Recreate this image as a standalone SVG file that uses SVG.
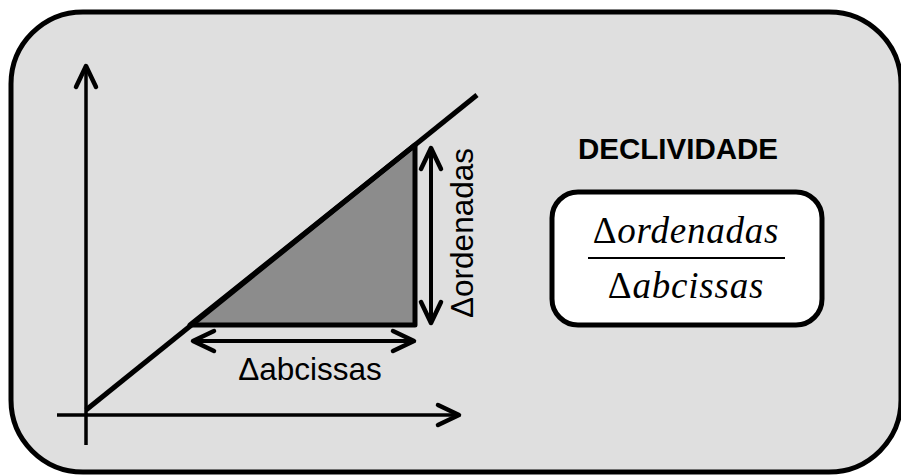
<svg xmlns="http://www.w3.org/2000/svg" width="901" height="475" viewBox="0 0 901 475">
<style>
.ax{stroke:#000;stroke-width:3.5;fill:none}
.dim{stroke:#000;stroke-width:4;fill:none}
.lbl{font-family:"Liberation Sans",Arial,sans-serif;font-size:31.5px;fill:#000}
.math{font-family:"Liberation Serif","Times New Roman",serif;font-size:37px;font-style:italic;fill:#000;letter-spacing:0.8px}
.up{font-style:normal}
</style>
<defs>
<marker id="ah" markerUnits="userSpaceOnUse" viewBox="-25 -14 30 28" refX="0" refY="0" markerWidth="30" markerHeight="28" orient="auto-start-reverse" overflow="visible">
<path d="M-21,-10 L0,0 L-21,10" fill="none" stroke="#000" stroke-width="4.5" stroke-linecap="round" stroke-linejoin="round"/>
</marker>
</defs>
<g id="frame">
<rect x="11" y="12" width="890" height="460" rx="72" ry="72" fill="#dfdfdf" stroke="#000" stroke-width="5"/>
</g>
<g id="triangle">
<polygon points="190,325 415,325 415,145" fill="#8c8c8c" stroke="#000" stroke-width="5" stroke-linejoin="round"/>
</g>
<g id="slope-line">
<line x1="86" y1="410" x2="477" y2="95" stroke="#000" stroke-width="5"/>
</g>
<g id="connectors">
<line class="ax" x1="86" y1="445" x2="86" y2="66" marker-end="url(#ah)"/>
<line class="ax" x1="57" y1="415" x2="459" y2="415" marker-end="url(#ah)"/>
<line class="dim" x1="193" y1="341" x2="414" y2="341" marker-start="url(#ah)" marker-end="url(#ah)"/>
<line class="dim" x1="431" y1="148" x2="431" y2="323" marker-start="url(#ah)" marker-end="url(#ah)"/>
</g>
<g id="label-abcissas">
<text class="lbl" x="310" y="380" text-anchor="middle">Δabcissas</text>
</g>
<g id="label-ordenadas">
<text class="lbl" transform="translate(473,233) rotate(-90)" text-anchor="middle">Δordenadas</text>
</g>
<g id="title">
<text x="678" y="159" text-anchor="middle" font-family="'Liberation Sans',Arial,sans-serif" font-weight="bold" font-size="29.5">DECLIVIDADE</text>
</g>
<g id="formula">
<rect x="552" y="192" width="270" height="133" rx="26" ry="26" fill="#fff" stroke="#000" stroke-width="5"/>
<text class="math" x="686" y="243" text-anchor="middle"><tspan class="up">Δ</tspan>ordenadas</text>
<line x1="588" y1="258" x2="785" y2="258" stroke="#000" stroke-width="2"/>
<text class="math" x="686" y="298" text-anchor="middle"><tspan class="up">Δ</tspan>abcissas</text>
</g>
</svg>
